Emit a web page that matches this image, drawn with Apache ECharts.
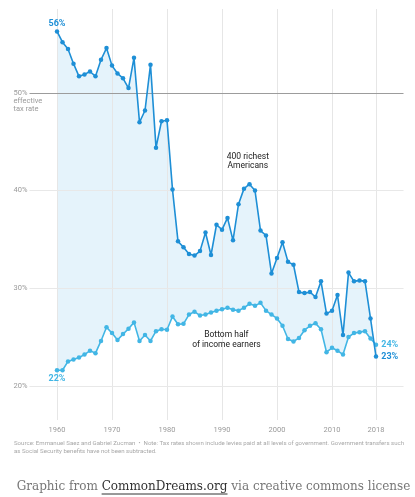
<!DOCTYPE html>
<html><head><meta charset="utf-8">
<script src="https://cdn.jsdelivr.net/npm/echarts@6/dist/echarts.min.js"></script>
<style>html,body{margin:0;padding:0;background:#fff}#c{width:415px;height:497px}</style>
</head><body><div id="c"></div>
<script>
const years = [];
for (let y = 1960; y <= 2018; y++) years.push(y);
const richest400 = [56.3,55.2,54.5,53.0,51.7,51.9,52.2,51.7,53.4,54.6,
  52.8,52.0,51.5,50.5,53.6,47.0,48.2,52.9,44.4,47.1,
  47.2,40.1,34.8,34.2,33.5,33.35,33.8,35.7,33.4,36.5,
  36.0,37.2,34.9,38.6,40.2,40.65,40.0,35.9,35.4,31.5,
  33.1,34.7,32.7,32.4,29.6,29.5,29.6,29.1,30.7,27.4,
  27.7,29.3,25.2,31.6,30.7,30.8,30.7,26.9,23.0];
const bottomHalf = [21.6,21.6,22.5,22.7,22.9,23.2,23.6,23.35,24.6,26.0,
  25.4,24.7,25.3,25.85,26.5,24.6,25.2,24.6,25.6,25.8,
  25.75,27.1,26.3,26.35,27.3,27.6,27.2,27.3,27.5,27.7,
  27.85,28.0,27.8,27.7,28.0,28.4,28.2,28.5,27.7,27.3,
  26.9,26.15,24.8,24.55,24.9,25.7,26.15,26.4,25.8,23.45,
  23.9,23.6,23.2,25.0,25.4,25.5,25.6,24.85,24.2];
const xTicks = [1960,1970,1980,1990,2000,2010,2018];
const yTicks = [20,30,40,50];

const TOP = '#1e8fd6', BOT = '#42b6e5', FILL = 'rgba(100,185,230,0.17)';
const n = years.length - 1;
const font = 'Roboto, "Liberation Sans", sans-serif';
const endLabel = (pos, color) => ({show:true, position:pos, distance:pos==='right'?3:(pos==='top'?1:2),
  fontFamily:font, fontWeight:'bold', fontSize:9, color:color,
  formatter:(p)=>Math.round(p.value[1])+'%'});
const seriesData = (arr, firstPos, color) => arr.map((v,i) => {
  const d = [years[i], v];
  if (i===0) return {value:d, label:endLabel(firstPos, color)};
  if (i===n) return {value:d, label:endLabel('right', color)};
  return d;
});

const chart = echarts.init(document.getElementById('c'), null, {renderer:'canvas'});
chart.setOption({
  animation:false,
  grid:{left:29.5, right:11.5, top:9, bottom:77},
  xAxis:{type:'value', min:1955, max:2023, splitLine:{show:false},
    axisLine:{show:false}, axisTick:{show:false},
    axisLabel:{customValues:xTicks, color:'#9a9a9a', fontSize:7.5, fontFamily:font, margin:6,
      formatter:(v)=>String(v)}},
  yAxis:{type:'value', min:16.5, max:58.6, splitLine:{show:false},
    axisLine:{show:false}, axisTick:{show:false},
    axisLabel:{customValues:yTicks, color:'#9a9a9a', fontSize:7.5, fontFamily:font, align:'left', margin:16,
      formatter:(v)=>v+'%'}},
  series:[
    {type:'line', name:'grid', data:years.map((y,i)=>[y,bottomHalf[i]]), symbol:'none', lineStyle:{opacity:0}, z:1, silent:true,
     markLine:{silent:true, symbol:['none','none'], label:{show:false},
       data:[
         ...xTicks.map(x=>({xAxis:x, lineStyle:{color:'#e6e6e6', width:1, type:'solid'}})),
         ...[20,30,40].map(y=>({yAxis:y, lineStyle:{color:'#e8e8e8', width:1.2, type:'solid'}})),
         {yAxis:50, lineStyle:{color:'#9c9c9c', width:1.2, type:'solid'}}
       ]}},
    {type:'custom', name:'gap', data:[0], z:2, silent:true,
     renderItem:(params, api) => {
       const pts = [];
       for (let i=0;i<years.length;i++) pts.push(api.coord([years[i], richest400[i]]));
       for (let i=years.length-1;i>=0;i--) pts.push(api.coord([years[i], bottomHalf[i]]));
       return {type:'polygon', shape:{points:pts}, style:{fill:FILL}};
     }},
    {type:'line', name:'400 richest Americans', data:seriesData(richest400,'top',TOP), symbol:'circle', symbolSize:4.5, z:6,
     lineStyle:{color:TOP, width:1.6}, itemStyle:{color:TOP},
     markPoint:{symbol:'circle', symbolSize:0, silent:true,
       label:{show:true, color:'#222', fontFamily:font, fontSize:8.5, lineHeight:9.5, align:'center', verticalAlign:'middle',
         formatter:'400 richest\nAmericans'},
       data:[{coord:[1994.7, 43.0]}]}},
    {type:'line', name:'Bottom half of income earners', data:seriesData(bottomHalf,'bottom',BOT), symbol:'circle', symbolSize:4.5, z:5,
     lineStyle:{color:BOT, width:1.6}, itemStyle:{color:BOT},
     markPoint:{symbol:'circle', symbolSize:0, silent:true,
       label:{show:true, color:'#222', fontFamily:font, fontSize:8.5, lineHeight:10, align:'center', verticalAlign:'middle',
         formatter:'Bottom half\nof income earners'},
       data:[{coord:[1990.8, 24.7]}]}}
  ]
});

const p50 = chart.convertToPixel({gridIndex:0},[1955,50]);
const cap1 = 'Graphic from ';
const cap2 = 'CommonDreams.org';
const cap3 = ' via creative commons license';
const ctx = document.createElement('canvas').getContext('2d');
ctx.font = '13px "DejaVu Serif", serif';
const tot13 = ctx.measureText(cap1+cap2+cap3).width;
const capSize = Math.min(15, 13*394/tot13);
const capFont = capSize.toFixed(2)+'px "DejaVu Serif", serif';
ctx.font = capFont;
const w1 = ctx.measureText(cap1).width, w2 = ctx.measureText(cap2).width, w3 = ctx.measureText(cap3).width;
const capLeft = (415 - (w1+w2+w3))/2 + 6;
chart.setOption({graphic:[
  {type:'text', left:13.5, top:p50[1]+3.5, silent:true,
   style:{text:'effective\ntax rate', fill:'#9a9a9a', font:'7.5px '+font, lineHeight:8.5}},
  {type:'text', left:14, top:439, silent:true,
   style:{text:'Source: Emmanuel Saez and Gabriel Zucman  \u2022  Note: Tax rates shown include levies paid at all levels of government. Government transfers such\nas Social Security benefits have not been subtracted.',
     fill:'#a8a8a8', font:'6.1px '+font, lineHeight:8.5}},
  {type:'text', x:capLeft, y:487, silent:true,
   style:{text:'{a|'+cap1+'}{b|'+cap2+'}{a|'+cap3+'}', font:capFont, verticalAlign:'middle',
     rich:{a:{fill:'#777', font:capFont}, b:{fill:'#333', font:capFont}}}},
  {type:'line', silent:true, shape:{x1:capLeft+w1, y1:494, x2:capLeft+w1+w2, y2:494}, style:{stroke:'#333', lineWidth:1}}
]});
</script></body></html>
